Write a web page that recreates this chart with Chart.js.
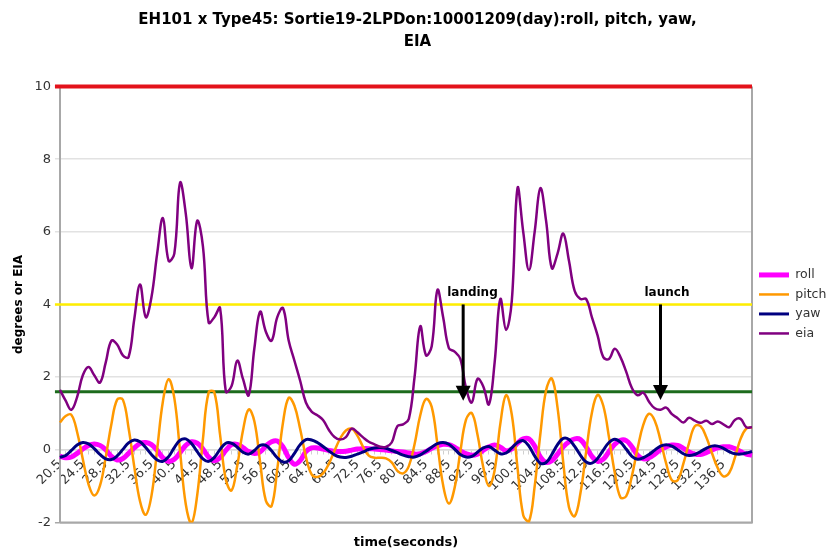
<!DOCTYPE html>
<html>
<head>
<meta charset="utf-8">
<title>EH101 x Type45 roll, pitch, yaw, EIA</title>
<script src="https://cdn.jsdelivr.net/npm/chart.js@4.4.1/dist/chart.umd.min.js"></script>
<style>
  html, body { margin: 0; padding: 0; background: #fff; }
  #wrap { width: 827px; height: 554px; }
</style>
</head>
<body>
<div id="wrap"><canvas id="eiaChart" width="827" height="554"></canvas></div>
<script>
// time axis, one sample per second
var times = [
  '20.5','21.5','22.5','23.5','24.5','25.5','26.5','27.5','28.5','29.5',
  '30.5','31.5','32.5','33.5','34.5','35.5','36.5','37.5','38.5','39.5',
  '40.5','41.5','42.5','43.5','44.5','45.5','46.5','47.5','48.5','49.5',
  '50.5','51.5','52.5','53.5','54.5','55.5','56.5','57.5','58.5','59.5',
  '60.5','61.5','62.5','63.5','64.5','65.5','66.5','67.5','68.5','69.5',
  '70.5','71.5','72.5','73.5','74.5','75.5','76.5','77.5','78.5','79.5',
  '80.5','81.5','82.5','83.5','84.5','85.5','86.5','87.5','88.5','89.5',
  '90.5','91.5','92.5','93.5','94.5','95.5','96.5','97.5','98.5','99.5',
  '100.5','101.5','102.5','103.5','104.5','105.5','106.5','107.5','108.5','109.5',
  '110.5','111.5','112.5','113.5','114.5','115.5','116.5','117.5','118.5','119.5',
  '120.5','121.5','122.5','123.5','124.5','125.5','126.5','127.5','128.5','129.5',
  '130.5','131.5','132.5','133.5','134.5','135.5','136.5','137.5','138.5','139.5',
  '140.5','141.5'
];

// only these get a label on the time axis
var tickLabels = [
  '20.5','24.5','28.5','32.5','36.5','40.5','44.5','48.5','52.5','56.5',
  '60.5','64.5','68.5','72.5','76.5','80.5','84.5','88.5','92.5','96.5',
  '100.5','104.5','108.5','112.5','116.5','120.5','124.5','128.5','132.5','136.5'
];

var rollDeg = [
  -0.18,-0.22,-0.20,-0.10, 0.02, 0.12, 0.16, 0.12, 0.00,-0.18,
  -0.28,-0.24,-0.10, 0.05, 0.17, 0.20, 0.14,-0.02,-0.22,-0.32,
  -0.26,-0.08, 0.12, 0.22, 0.18, 0.02,-0.20,-0.30,-0.22,-0.02,
   0.14, 0.15, 0.06,-0.05,-0.10,-0.06, 0.10, 0.22, 0.24, 0.08,
  -0.22,-0.40,-0.30,-0.05, 0.05, 0.05, 0.02,-0.02,-0.04,-0.05,
  -0.04,-0.01, 0.02, 0.03, 0.03, 0.02, 0.01,-0.01,-0.03,-0.05,
  -0.06,-0.09,-0.12,-0.11,-0.05, 0.04, 0.11, 0.15, 0.14, 0.07,
  -0.03,-0.11,-0.15,-0.12,-0.02, 0.08, 0.13, 0.07,-0.03, 0.02,
   0.18, 0.30, 0.30, 0.10,-0.20,-0.35,-0.30,-0.12, 0.08, 0.22,
   0.30, 0.28, 0.08,-0.18,-0.32,-0.26,-0.05, 0.15, 0.26, 0.25,
   0.08,-0.15,-0.25,-0.22,-0.12, 0.00, 0.08, 0.13, 0.12, 0.04,
  -0.06,-0.12,-0.13,-0.08,-0.01, 0.05, 0.08, 0.08, 0.03,-0.05,
  -0.12,-0.15
];

var pitchDeg = [
   0.75, 0.93, 0.96, 0.49,-0.26,-0.95,-1.26,-0.99,-0.21, 0.71,
   1.38, 1.38, 0.60,-0.47,-1.42,-1.79,-1.27, 0.01, 1.33, 1.94,
   1.42,-0.04,-1.50,-2.02,-1.25, 0.29, 1.58, 1.58, 0.41,-0.82,
  -1.12,-0.44, 0.53, 1.11, 0.78,-0.34,-1.40,-1.55,-0.53, 0.75,
   1.43, 1.21, 0.57,-0.19,-0.68,-0.75,-0.65,-0.39,-0.03, 0.31,
   0.53, 0.58, 0.39, 0.08,-0.16,-0.22,-0.22,-0.24,-0.35,-0.58,
  -0.65,-0.45, 0.15, 0.95, 1.40, 1.18, 0.15,-0.98,-1.48,-1.05,
  -0.06, 0.83, 1.01, 0.42,-0.47,-1.00,-0.57, 0.72, 1.50, 0.97,
  -0.49,-1.80,-1.98,-1.01, 0.44, 1.64, 1.96, 1.16,-0.35,-1.58,
  -1.83,-1.20,-0.06, 1.01, 1.51, 1.21, 0.34,-0.63,-1.31,-1.28,
  -0.72, 0.04, 0.69, 0.99, 0.80, 0.26,-0.38,-0.84,-0.84,-0.38,
   0.19, 0.65, 0.65, 0.35,-0.09,-0.50,-0.73,-0.64,-0.22, 0.30,
   0.58, 0.62
];

var yawDeg = [
  -0.21,-0.16,-0.02, 0.13, 0.20, 0.16, 0.03,-0.13,-0.25,-0.27,
  -0.17, 0.01, 0.19, 0.27, 0.22, 0.06,-0.13,-0.28,-0.32,-0.19,
   0.06, 0.26, 0.30, 0.17,-0.05,-0.25,-0.32,-0.21, 0.01, 0.18,
   0.18, 0.07,-0.07,-0.12,-0.02, 0.12, 0.12,-0.03,-0.22,-0.34,
  -0.30,-0.10, 0.14, 0.28, 0.27, 0.20, 0.09,-0.03,-0.14,-0.20,
  -0.21,-0.18,-0.12,-0.06, 0.01, 0.05, 0.06, 0.04,-0.02,-0.08,
  -0.15,-0.19,-0.20,-0.14,-0.04, 0.07, 0.17, 0.20, 0.15, 0.02,
  -0.13,-0.20,-0.18,-0.07, 0.05, 0.09,-0.01,-0.11,-0.09, 0.05,
   0.20, 0.25, 0.10,-0.17,-0.37,-0.35,-0.13, 0.14, 0.31, 0.28,
   0.09,-0.15,-0.34,-0.37,-0.24,-0.01, 0.20, 0.29, 0.21, 0.02,
  -0.18,-0.26,-0.22,-0.13,-0.01, 0.10, 0.14, 0.10, 0.00,-0.11,
  -0.16,-0.13,-0.05, 0.04, 0.10, 0.10, 0.04,-0.05,-0.11,-0.12,
  -0.09,-0.05
];

var eiaValues = [
  1.65, 1.35, 1.10, 1.45, 2.05, 2.28, 2.05, 1.85, 2.40, 3.00,
  2.90, 2.60, 2.55, 3.60, 4.55, 3.65, 4.20, 5.40, 6.38, 5.20,
  5.40, 7.35, 6.50, 5.00, 6.30, 5.60, 3.50, 3.65, 3.90, 1.60,
  1.75, 2.45, 1.95, 1.50, 2.80, 3.80, 3.25, 3.00, 3.65, 3.90,
  3.00, 2.45, 1.90, 1.30, 1.05, 0.95, 0.82, 0.55, 0.35, 0.28,
  0.35, 0.58, 0.48, 0.34, 0.22, 0.15, 0.08, 0.08, 0.20, 0.65,
  0.70, 0.85, 2.00, 3.40, 2.60, 2.85, 4.40, 3.65, 2.80, 2.70,
  2.50, 1.70, 1.30, 1.95, 1.75, 1.25, 2.40, 4.15, 3.30, 4.10,
  7.20, 6.00, 4.95, 6.00, 7.20, 6.30, 5.00, 5.40, 5.95, 5.20,
  4.37, 4.15, 4.15, 3.65, 3.15, 2.55, 2.50, 2.78, 2.55, 2.15,
  1.70, 1.50, 1.57, 1.32, 1.14, 1.10, 1.16, 0.98, 0.87, 0.75,
  0.88, 0.80, 0.74, 0.80, 0.71, 0.78, 0.70, 0.62, 0.82, 0.85,
  0.62, 0.62
];

// horizontal reference levels: red, yellow, green
var limitValues = [10, 4, 1.6];

// event arrows: text, time (s), arrow top and tip (degrees)
var markerText = ['landing', 'launch'];
var markerTime = [91.0, 125.5];
var markerTop = [4, 4];
var markerTip = [1.35, 1.37];

// ---- styling ----
var limitColors = ['#e3121b', '#ffee00', '#1c6b1c'];
var limitWidths = [4, 2.5, 3];
var FONT = '"DejaVu Sans", Verdana, sans-serif';

Chart.defaults.font.family = FONT;
Chart.defaults.color = '#333';

var refLines = {
  id: 'refLines',
  beforeDatasetsDraw: function (chart) {
    var ctx = chart.ctx, area = chart.chartArea, y = chart.scales.y;
    ctx.save();
    ctx.strokeStyle = '#a8a8a8';
    ctx.lineWidth = 2;
    ctx.beginPath();
    ctx.moveTo(area.left, area.bottom);
    ctx.lineTo(area.right, area.bottom);
    ctx.lineTo(area.right, area.top);
    ctx.stroke();
    for (var i = 0; i < limitValues.length; i++) {
      var py = y.getPixelForValue(limitValues[i]);
      ctx.strokeStyle = limitColors[i];
      ctx.lineWidth = limitWidths[i];
      ctx.beginPath();
      ctx.moveTo(area.left - 5, py);
      ctx.lineTo(area.right, py);
      ctx.stroke();
    }
    ctx.restore();
  }
};

var markers = {
  id: 'markers',
  afterDatasetsDraw: function (chart) {
    var ctx = chart.ctx, x = chart.scales.x, y = chart.scales.y;
    var t0 = Number(times[0]);
    ctx.save();
    ctx.fillStyle = '#000';
    ctx.strokeStyle = '#000';
    ctx.font = 'bold 12px ' + FONT;
    for (var i = 0; i < markerText.length; i++) {
      var px = x.getPixelForValue(markerTime[i] - t0);
      var top = y.getPixelForValue(markerTop[i]);
      var tip = y.getPixelForValue(markerTip[i]);
      ctx.lineWidth = 3;
      ctx.beginPath();
      ctx.moveTo(px, top);
      ctx.lineTo(px, tip - 12);
      ctx.stroke();
      ctx.beginPath();
      ctx.moveTo(px - 7.5, tip - 15);
      ctx.lineTo(px + 7.5, tip - 15);
      ctx.lineTo(px, tip);
      ctx.closePath();
      ctx.fill();
      ctx.textAlign = 'left';
      ctx.textBaseline = 'middle';
      ctx.fillText(markerText[i], px - 16, top - 12);
    }
    ctx.restore();
  }
};

function line(label, data, color, width, order) {
  return {
    label: label,
    data: data,
    borderColor: color,
    backgroundColor: color,
    borderWidth: width,
    pointRadius: 0,
    tension: 0.4,
    fill: false,
    order: order
  };
}

var ctx = document.getElementById('eiaChart').getContext('2d');
var eiaChart = new Chart(ctx, {
  type: 'line',
  data: {
    labels: times,
    datasets: [
      line('roll', rollDeg, '#ff00ff', 5, 4),
      line('pitch', pitchDeg, '#ff9900', 2.5, 3),
      line('yaw', yawDeg, '#000080', 3, 2),
      line('eia', eiaValues, '#800080', 2.5, 1)
    ]
  },
  options: {
    responsive: false,
    animation: false,
    devicePixelRatio: 1,
    layout: { padding: { left: 8, right: 0, top: 0, bottom: 2 } },
    plugins: {
      title: {
        display: true,
        text: ['EH101 x Type45: Sortie19-2LPDon:10001209(day):roll, pitch, yaw,', 'EIA'],
        color: '#000',
        font: { size: 15, weight: 'bold', lineHeight: 1.45 },
        padding: { top: 9, bottom: 34 }
      },
      legend: {
        position: 'right',
        maxWidth: 75,
        // empty title only used to push the key down beside the plot
        title: { display: true, text: '', font: { size: 12 }, padding: { top: 42, bottom: 0 } },
        labels: {
          usePointStyle: true,
          pointStyle: 'line',
          pointStyleWidth: 30,
          color: '#333',
          font: { size: 12.5 },
          padding: 7,
          sort: function (a, b) { return a.datasetIndex - b.datasetIndex; }
        }
      },
      tooltip: { enabled: false }
    },
    scales: {
      x: {
        type: 'category',
        position: { y: 0 },
        grid: { drawOnChartArea: false, drawTicks: true, tickLength: 4, color: '#cfcfcf' },
        border: { color: '#dadada', width: 1.5 },
        ticks: {
          autoSkip: false,
          maxRotation: 45,
          minRotation: 45,
          padding: 3,
          color: '#333',
          font: { size: 13 },
          callback: function (value, index) {
            var l = times[index];
            return tickLabels.indexOf(l) >= 0 ? l : '';
          }
        }
      },
      x2: {
        type: 'category',
        labels: times,
        position: 'bottom',
        grid: { display: false },
        border: { display: false },
        ticks: { display: false },
        title: {
          display: true,
          text: 'time(seconds)',
          color: '#000',
          font: { size: 13, weight: 'bold' },
          padding: { top: 4, bottom: 2 }
        }
      },
      y: {
        min: -2,
        max: 10,
        ticks: { stepSize: 2, color: '#333', font: { size: 13 }, padding: 4 },
        grid: {
          color: function (c) { return c.tick && c.tick.value === -2 ? '#a8a8a8' : '#e2e2e2'; },
          lineWidth: 1.5,
          tickLength: 5
        },
        border: { color: '#a8a8a8', width: 2 },
        title: {
          display: true,
          text: 'degrees or EIA',
          color: '#000',
          font: { size: 12, weight: 'bold' },
          padding: { top: 4, bottom: 4 }
        }
      }
    }
  },
  plugins: [refLines, markers]
});
</script>
</body>
</html>
